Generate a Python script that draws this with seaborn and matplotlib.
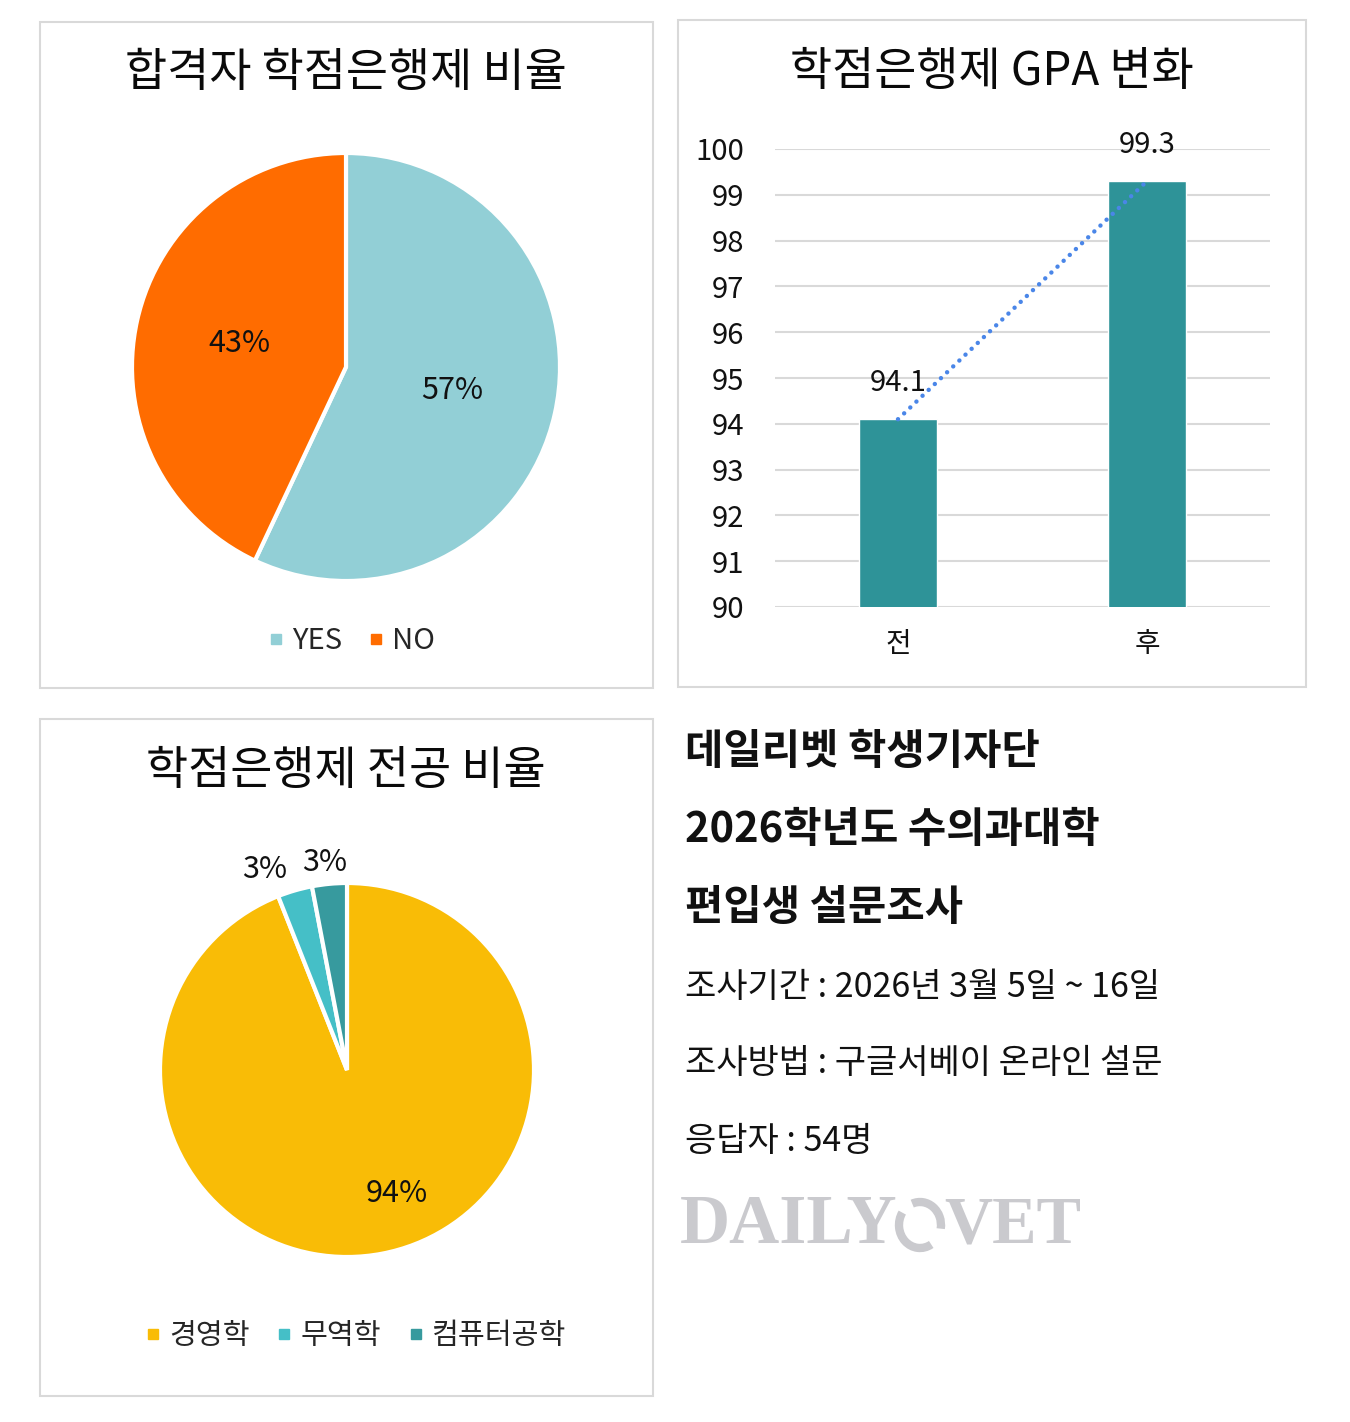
import matplotlib
matplotlib.use("Agg")
import matplotlib.pyplot as plt
import seaborn as sns
import pandas as pd
from matplotlib.patches import Rectangle, Arc
from matplotlib.lines import Line2D

# ---------------- data ----------------
pie1_labels = ["YES", "NO"]
pie1_values = [57, 43]
pie1_colors = ["#92CFD6", "#FF6C00"]

bar_cats = ["전", "후"]
bar_values = [94.1, 99.3]
bar_yticks = [90, 91, 92, 93, 94, 95, 96, 97, 98, 99, 100]

pie2_labels = ["경영학", "무역학", "컴퓨터공학"]
pie2_values = [94, 3, 3]
pie2_colors = ["#F9BC06", "#45BFC7", "#379A9E"]

titles = ["합격자 학점은행제 비율", "학점은행제 GPA 변화", "학점은행제 전공 비율"]
info_bold = ["데일리벳 학생기자단", "2026학년도 수의과대학", "편입생 설문조사"]
info_regular = ["조사기간 : 2026년 3월 5일 ~ 16일", "조사방법 : 구글서베이 온라인 설문", "응답자 : 54명"]

# ---------------- style ----------------
sns.set_theme(style="white")
FONT = ["Noto Sans CJK KR", "DejaVu Sans"]
plt.rcParams["font.family"] = FONT

W, H = 1350, 1422
fig = plt.figure(figsize=(W / 100, H / 100), dpi=100)
fig.patch.set_facecolor("white")


def add_ax(left, top, right, bottom):
    return fig.add_axes([left / W, 1 - bottom / H, (right - left) / W, (bottom - top) / H])


# overlay in pixel coordinates
ov = fig.add_axes([0, 0, 1, 1])
ov.set_xlim(0, W)
ov.set_ylim(H, 0)
ov.axis("off")
ov.set_zorder(-1)

border = "#D9D9D9"
for (l, t, r, b) in [(40, 22, 653, 688), (678, 20, 1306, 687), (40, 719, 653, 1396)]:
    ov.add_patch(Rectangle((l, t), r - l, b - t, fill=False, edgecolor=border, linewidth=1.5))

tkw = dict(ha="center", va="center", fontsize=33, color="#0A0A0A")
ov.text(346, 73, titles[0], **tkw)
ov.text(992, 72, titles[1], **tkw)
ov.text(346, 771, titles[2], **tkw)

# ---------------- pie 1 ----------------
R1 = 214
cx, cy = 346, 367
half = 300
ax1 = add_ax(cx - half, cy - half, cx + half, cy + half)
L = half / R1
w1, t1, a1 = ax1.pie(pie1_values, colors=pie1_colors, startangle=90, counterclock=False,
                     autopct=lambda p: f"{p:.0f}%", pctdistance=0.51,
                     wedgeprops=dict(edgecolor="white", linewidth=3),
                     textprops=dict(fontsize=22, color="#111111"))
ax1.set_xlim(-L, L)
ax1.set_ylim(-L, L)
ax1.set_aspect("equal")
ax1.axis("off")

h1 = [Line2D([], [], marker="s", linestyle="none", markersize=7, color=c) for c in pie1_colors]
fig.legend(h1, pie1_labels, loc="center", bbox_to_anchor=(352 / W, 1 - 641 / H), ncol=2,
           frameon=False, prop=dict(size=21), handlelength=0.5,
           handletextpad=0.3, columnspacing=0.9)

# ---------------- bar chart ----------------
ax2 = add_ax(775, 149, 1270, 607)
df = pd.DataFrame({"cat": bar_cats, "val": bar_values})
sns.barplot(data=df, x="cat", y="val", color="#2E9398", saturation=1, width=0.31, ax=ax2, zorder=3)
ax2.plot(range(len(bar_values)), bar_values, linestyle=(0, (0.01, 1.9)), color="#4A86E8",
         linewidth=3.2, zorder=4, dash_capstyle="round")
ax2.set_ylim(90, 100)
ax2.set_xlim(-0.494, 1.494)
ax2.set_yticks(bar_yticks)
ax2.yaxis.grid(True, color="#D9D9D9", linewidth=1.5, zorder=0)
ax2.set_axisbelow(True)
for s in ax2.spines.values():
    s.set_visible(False)
ax2.tick_params(axis="y", length=0, pad=22, labelsize=21, labelcolor="#111111")
ax2.tick_params(axis="x", length=0, pad=16, labelsize=20, labelcolor="#111111")
ax2.set_xlabel("")
ax2.set_ylabel("")
for i, v in enumerate(bar_values):
    ax2.annotate(f"{v}", (i, v), xytext=(0, 26), textcoords="offset points",
                 ha="center", va="center", fontsize=21, color="#111111",
                 annotation_clip=False)

# ---------------- pie 2 ----------------
R2 = 187
cx, cy = 347, 1070
half = 260
ax3 = add_ax(cx - half, cy - half, cx + half, cy + half)
L = half / R2
w3, t3, a3 = ax3.pie(pie2_values, colors=pie2_colors, startangle=90, counterclock=False,
                     autopct=lambda p: f"{p:.0f}%", pctdistance=0.7,
                     wedgeprops=dict(edgecolor="white", linewidth=3),
                     textprops=dict(fontsize=22, color="#111111"))
label_pos = [(0.267, -0.658), (-0.439, 1.07), (-0.118, 1.112)]
for txt, pos in zip(a3, label_pos):
    txt.set_position(pos)
ax3.set_xlim(-L, L)
ax3.set_ylim(-L, L)
ax3.set_aspect("equal")
ax3.axis("off")

h3 = [Line2D([], [], marker="s", linestyle="none", markersize=7, color=c) for c in pie2_colors]
fig.legend(h3, pie2_labels, loc="center", bbox_to_anchor=(356 / W, 1 - 1336 / H), ncol=3,
           frameon=False, prop=dict(size=21), handlelength=0.5,
           handletextpad=0.3, columnspacing=0.95)

# ---------------- info text ----------------
for y, s in zip([752, 830, 908], info_bold):
    ov.text(685, y, s, ha="left", va="center", fontsize=30, fontweight="bold", color="#111111")
for y, s in zip([987, 1064, 1142], info_regular):
    ov.text(685, y, s, ha="left", va="center", fontsize=24.5, color="#111111")

# ---------------- logo ----------------
logo_c = "#CACACE"
ov.text(680, 1226, "DAILY", ha="left", va="center", fontsize=50, fontweight="bold",
        family="Liberation Serif", color=logo_c)
ov.text(944, 1226, "VET", ha="left", va="center", fontsize=48, fontweight="bold",
        family="Liberation Serif", color=logo_c)
ov.add_patch(Arc((920, 1225), 42, 46, angle=0, theta1=60, theta2=215, color=logo_c, linewidth=6))
ov.add_patch(Arc((920, 1225), 42, 46, angle=0, theta1=250, theta2=10, color=logo_c, linewidth=6))

fig.savefig("out.png", dpi=100, facecolor="white")
